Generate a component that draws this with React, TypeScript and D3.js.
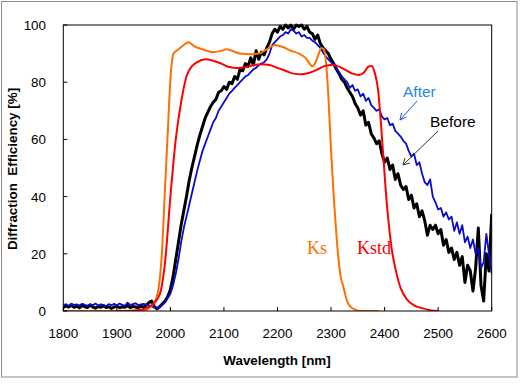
import React from 'react';
import * as d3 from 'd3';

// Measured spectra, sampled every 5 nm from 1800 to 2600 nm
const gridStart = 1800;
const gridStep = 5;

const beforeVals = [
  1.2, 1.8, 1.4, 2.0, 1.3, 1.7, 1.1, 1.9, 1.5, 1.2,
  2.1, 1.4, 1.0, 1.6, 1.3, 1.8, 1.2, 1.5, 0.9, 1.4,
  1.7, 1.1, 1.5, 1.3, 1.9, 1.2, 1.6, 1.4, 1.1, 1.7,
  1.3, 2.0, 3.0, 3.5, 1.5, 0.8, 1.5, 2.5, 3.5, 5,
  7.5, 12, 18, 24, 30, 35, 40, 45.5, 50, 54,
  58, 61.5, 64.5, 67.5, 69.5, 71.5, 73, 74, 76.5, 77,
  78.5, 77.5, 80, 79.5, 82, 81, 84.5, 84, 86.5, 85.5,
  88.5, 86, 91, 88, 90.5, 89.5, 92, 94, 97, 98.5,
  97.5, 99.5, 98.5, 100, 99, 100, 98.5, 100, 99.5, 100,
  98.5, 99.5, 97.5, 97, 95, 96.5, 93.5, 92, 91, 90,
  88, 86.5, 84.5, 83, 81, 80, 78, 76.5, 75, 72.5,
  71, 68.5, 70, 65, 66, 62, 60.5, 58.5, 59.5, 55,
  52, 53.5, 49.5, 51, 46, 48, 44, 42.5, 43.5, 39,
  40.5, 36, 37.5, 33, 35, 31.5, 26.5, 30, 28.5, 30,
  27, 28.5, 23, 25, 20.5, 22, 18, 20.5, 16, 19,
  10, 16, 14, 7, 15, 29, 9, 3.5, 20, 14,
  34,
];

const afterVals = [
  2.0, 2.4, 1.8, 2.6, 2.1, 2.3, 1.9, 2.5, 2.2, 1.8,
  2.4, 2.0, 2.6, 1.9, 2.3, 2.1, 1.7, 2.4, 2.0, 2.5,
  1.9, 2.6, 2.2, 1.8, 2.9, 2.1, 2.4, 2.7, 2.0, 2.3,
  2.5, 2.2, 2.0, 1.6, 1.2, 1.0, 1.5, 2.2, 3, 4.5,
  6, 9, 13, 18, 24, 29, 33, 37, 41, 45,
  49, 52.5, 56, 58.5, 61, 63.5, 66, 67.5, 70, 71.5,
  73, 74.5, 76, 77, 78, 79, 80, 81, 82, 82.5,
  83.5, 84.5, 85, 86, 86.5, 87, 88, 90, 93, 94,
  95, 96, 96.5, 97.5, 97, 98.5, 98, 97, 97.5, 96,
  96.5, 95.5, 95.5, 94.5, 94, 93, 92, 90.5, 89, 88,
  87, 86, 85, 83.5, 82, 81, 80, 78, 79, 77,
  77.5, 75, 76, 73.5, 74.5, 72, 71, 70, 70.5, 68,
  67, 67.5, 65, 65.5, 63, 62, 61, 59.5, 58.5, 56,
  54, 55, 51, 52, 48, 45, 44, 46, 40, 38,
  35.5, 36, 33, 34.5, 32, 33, 28, 31, 27, 30,
  24, 26, 22, 25, 20, 22, 15, 17, 27, 20,
  13,
];

// Filter transmission curves [wavelength, %]
const ksCurve: [number, number][] = [
  [1800, 0], [1950, 0], [1960, 1], [1970, 3], [1978, 8], [1984, 20], [1990, 43],
  [1996, 66], [2000, 81], [2006, 90], [2015, 91.5], [2025, 93], [2034, 94],
  [2045, 92.5], [2060, 91.5], [2080, 90.5], [2095, 91], [2105, 91.5], [2115, 91],
  [2130, 90], [2150, 89.8], [2165, 90], [2180, 91.5], [2195, 93], [2210, 92.3],
  [2225, 91], [2240, 90], [2252, 88.5], [2260, 86.5], [2265, 85.5], [2270, 86.5],
  [2276, 89.5], [2282, 92], [2287, 91.5], [2291, 86], [2295, 75], [2300, 56],
  [2305, 40], [2308, 32], [2312, 22], [2318, 12], [2323, 8.5], [2330, 3.5],
  [2336, 1.5], [2345, 0.5], [2355, 0], [2390, 0],
];

const kstdCurve: [number, number][] = [
  [1900, 0], [1940, 0.3], [1955, 1], [1965, 2], [1975, 4], [1982, 7], [1990, 17],
  [2000, 40], [2010, 60], [2020, 73], [2030, 82], [2040, 85.5], [2050, 87],
  [2065, 88], [2080, 87.5], [2095, 86.5], [2110, 85.3], [2125, 85], [2140, 85.2],
  [2155, 86], [2170, 86.3], [2185, 86], [2200, 85], [2215, 84], [2230, 83],
  [2245, 82.8], [2260, 83.3], [2275, 84.5], [2290, 85.8], [2300, 86], [2310, 85.8],
  [2325, 84.5], [2340, 83], [2352, 82.5], [2362, 83.5], [2370, 85.5], [2376, 85.7],
  [2382, 83], [2388, 77], [2393, 66], [2398, 53], [2403, 40], [2408, 30],
  [2413, 22], [2420, 15], [2430, 8], [2442, 4], [2455, 2], [2470, 1],
  [2485, 0.3], [2500, 0],
];

const xTicks = [1800, 1900, 2000, 2100, 2200, 2300, 2400, 2500, 2600];
const yTicks = [0, 20, 40, 60, 80, 100];

const W = 524;
const H = 384;
const plot = { left: 63.3, right: 491.7, top: 25, bottom: 311 };
const font = 'Arial, "Liberation Sans", sans-serif';

export default function App() {
  const x = d3.scaleLinear().domain([1800, 2600]).range([plot.left, plot.right]);
  const y = d3.scaleLinear().domain([0, 100]).range([plot.bottom, plot.top]);

  const toPts = (vals: number[]) =>
    vals.map((v, i) => [gridStart + i * gridStep, v] as [number, number]);

  const jagged = d3.line<[number, number]>().x(d => x(d[0])).y(d => y(d[1]));
  const smooth = d3
    .line<[number, number]>()
    .x(d => x(d[0]))
    .y(d => y(d[1]))
    .curve(d3.curveMonotoneX);

  return (
    <div style={{ position: 'absolute', left: 0, top: 0 }}>
      <svg width={W} height={H} style={{ display: 'block', background: '#fff' }}>
        <defs>
          <clipPath id="plotClip">
            <rect x={plot.left} y={plot.top - 2} width={plot.right - plot.left} height={plot.bottom - plot.top + 2} />
          </clipPath>
        </defs>

        {/* outer chart frame */}
        <rect x={1.5} y={1.5} width={515.5} height={375.5} fill="#fff" stroke="#8c8c8c" strokeWidth={1} />

        {/* series */}
        <g clipPath="url(#plotClip)" fill="none" strokeLinejoin="round">
          <path d={jagged(toPts(beforeVals)) || ''} stroke="#000" strokeWidth={3} />
          <path d={jagged(toPts(afterVals)) || ''} stroke="#0a0ad0" strokeWidth={1.8} />
          <path d={smooth(ksCurve) || ''} stroke="#ff7000" strokeWidth={2} />
          <path d={smooth(kstdCurve) || ''} stroke="#ff0000" strokeWidth={2} />
        </g>

        {/* plot frame */}
        <rect
          x={plot.left}
          y={plot.top}
          width={plot.right - plot.left}
          height={plot.bottom - plot.top}
          fill="none"
          stroke="#000"
          strokeWidth={1}
        />

        {/* x ticks */}
        {xTicks.map(t => (
          <g key={'x' + t}>
            <line x1={x(t)} x2={x(t)} y1={plot.bottom} y2={plot.bottom - 4} stroke="#000" />
            <text x={x(t)} y={338} textAnchor="middle" fontFamily={font} fontSize={13.4} fill="#000">
              {t}
            </text>
          </g>
        ))}

        {/* y ticks */}
        {yTicks.map(t => (
          <g key={'y' + t}>
            <line x1={plot.left} x2={plot.left + 4} y1={y(t)} y2={y(t)} stroke="#000" />
            <text x={46} y={y(t) + 5} textAnchor="end" fontFamily={font} fontSize={13.4} fill="#000">
              {t}
            </text>
          </g>
        ))}

        {/* axis titles */}
        <text x={277} y={365} textAnchor="middle" fontFamily={font} fontSize={13.4} fontWeight="bold" fill="#000">
          Wavelength [nm]
        </text>
        <text
          transform="translate(17,169) rotate(-90)"
          textAnchor="middle"
          fontFamily={font}
          fontSize={13.4}
          fontWeight="bold"
          fill="#000"
          style={{ whiteSpace: 'pre' }}
        >
          {'Diffraction  Efficiency [%]'}
        </text>

        {/* annotations */}
        <text x={403} y={97} fontFamily={font} fontSize={15.5} fill="#2a8ad8">After</text>
        <line x1={417} y1={101} x2={400} y2={120} stroke="#2a55d0" strokeWidth={1} />
        <path d="M400,120 L401.5,113 M400,120 L406.5,117" stroke="#2a55d0" strokeWidth={1} fill="none" />

        <text x={430} y={127} fontFamily={font} fontSize={15.5} fill="#000">Before</text>
        <line x1={438} y1={131} x2={403} y2={165} stroke="#333" strokeWidth={1} />
        <path d="M403,165 L405,158 M403,165 L410,163" stroke="#333" strokeWidth={1} fill="none" />

        <text x={307} y={254} fontFamily='"Times New Roman", "Liberation Serif", serif' fontSize={18} fill="#ff7000">Ks</text>
        <text x={357} y={254} fontFamily='"Times New Roman", "Liberation Serif", serif' fontSize={18} fill="#ff0000">Kstd</text>
      </svg>
    </div>
  );
}
